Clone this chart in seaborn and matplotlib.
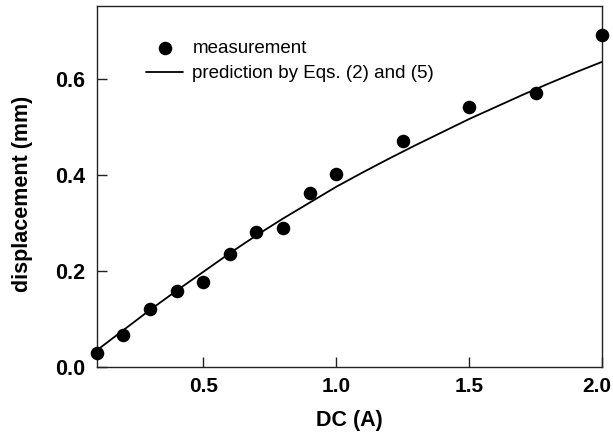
import matplotlib
matplotlib.use("Agg")
import matplotlib.pyplot as plt
import matplotlib.transforms as mtransforms
import seaborn as sns
import pandas as pd

# Measured displacement versus drive current
current_meas = [0.1, 0.2, 0.3, 0.4, 0.5, 0.6, 0.7, 0.8, 0.9, 1.0, 1.25, 1.5, 1.75, 2.0]
disp_meas = [0.030, 0.066, 0.121, 0.158, 0.178, 0.235, 0.281, 0.290, 0.362,
             0.402, 0.471, 0.542, 0.571, 0.690]

# Predicted displacement from Eqs. (2) and (5)
current_pred = [0.1, 0.2, 0.3, 0.4, 0.5, 0.6, 0.7, 0.8, 0.9, 1.0, 1.1, 1.2, 1.3,
                1.4, 1.5, 1.6, 1.7, 1.8, 1.9, 2.0]
disp_pred = [0.035, 0.077, 0.119, 0.159, 0.198, 0.237, 0.274, 0.309, 0.342, 0.375,
             0.405, 0.434, 0.462, 0.489, 0.516, 0.541, 0.566, 0.590, 0.613, 0.635]

x_ticks = [0.5, 1.0, 1.5, 2.0]
y_ticks = [0.0, 0.2, 0.4, 0.6]

meas = pd.DataFrame({"DC": current_meas, "disp": disp_meas})
pred = pd.DataFrame({"DC": current_pred, "disp": disp_pred})

sns.set_theme(style="ticks", rc={"text.color": "black", "axes.labelcolor": "black",
                                 "xtick.color": "black", "ytick.color": "black"})
plt.rcParams["font.family"] = ["Liberation Sans", "DejaVu Sans"]

fig = plt.figure(figsize=(6.13, 4.36), dpi=100)
ax = fig.add_axes([0.158, 0.158, 0.824, 0.828])

sns.lineplot(data=pred, x="DC", y="disp", ax=ax, color="black", linewidth=1.3,
             label="prediction by Eqs. (2) and (5)", zorder=2)
sns.scatterplot(data=meas, x="DC", y="disp", ax=ax, color="black", s=95,
                edgecolor="black", linewidth=0, label="measurement",
                clip_on=False, zorder=3)

ax.set_xlim(0.1, 2.0)
ax.set_ylim(0.0, 0.751)
ax.set_xticks(x_ticks)
ax.set_yticks(y_ticks)
ax.set_xticklabels([f"{v:.1f}" for v in x_ticks], fontsize=15, fontweight="bold")
ax.set_yticklabels([f"{v:.1f}" for v in y_ticks], fontsize=15.5, fontweight="bold")
ax.tick_params(direction="in", length=7, width=1, color="#222222",
               labelcolor="black", top=False, right=False)
ax.tick_params(axis="y", pad=8.5)
ax.tick_params(axis="x", pad=7)

# keep the last x label inside the figure edge
last = ax.get_xticklabels()[-1]
last.set_transform(last.get_transform() +
                   mtransforms.ScaledTranslation(-5 / 100, 0, fig.dpi_scale_trans))

ax.set_xlabel("DC (A)", fontsize=15.5, fontweight="bold", labelpad=10)
ax.set_ylabel("displacement (mm)", fontsize=15.5, fontweight="bold", labelpad=16)
ax.yaxis.label.set_y(0.479)

for side in ["left", "right", "top", "bottom"]:
    ax.spines[side].set_visible(True)
    ax.spines[side].set_color("#222222")
    ax.spines[side].set_linewidth(1.0)

handles, labels = ax.get_legend_handles_labels()
order = [labels.index("measurement"), labels.index("prediction by Eqs. (2) and (5)")]
ax.legend([handles[i] for i in order], [labels[i] for i in order],
          loc="upper left", bbox_to_anchor=(0.097, 0.906), frameon=False,
          fontsize=13.5, handlelength=2.0, handletextpad=0.48,
          labelspacing=0.42, borderaxespad=0, borderpad=0, labelcolor="black")

fig.savefig("out.png", dpi=100)
